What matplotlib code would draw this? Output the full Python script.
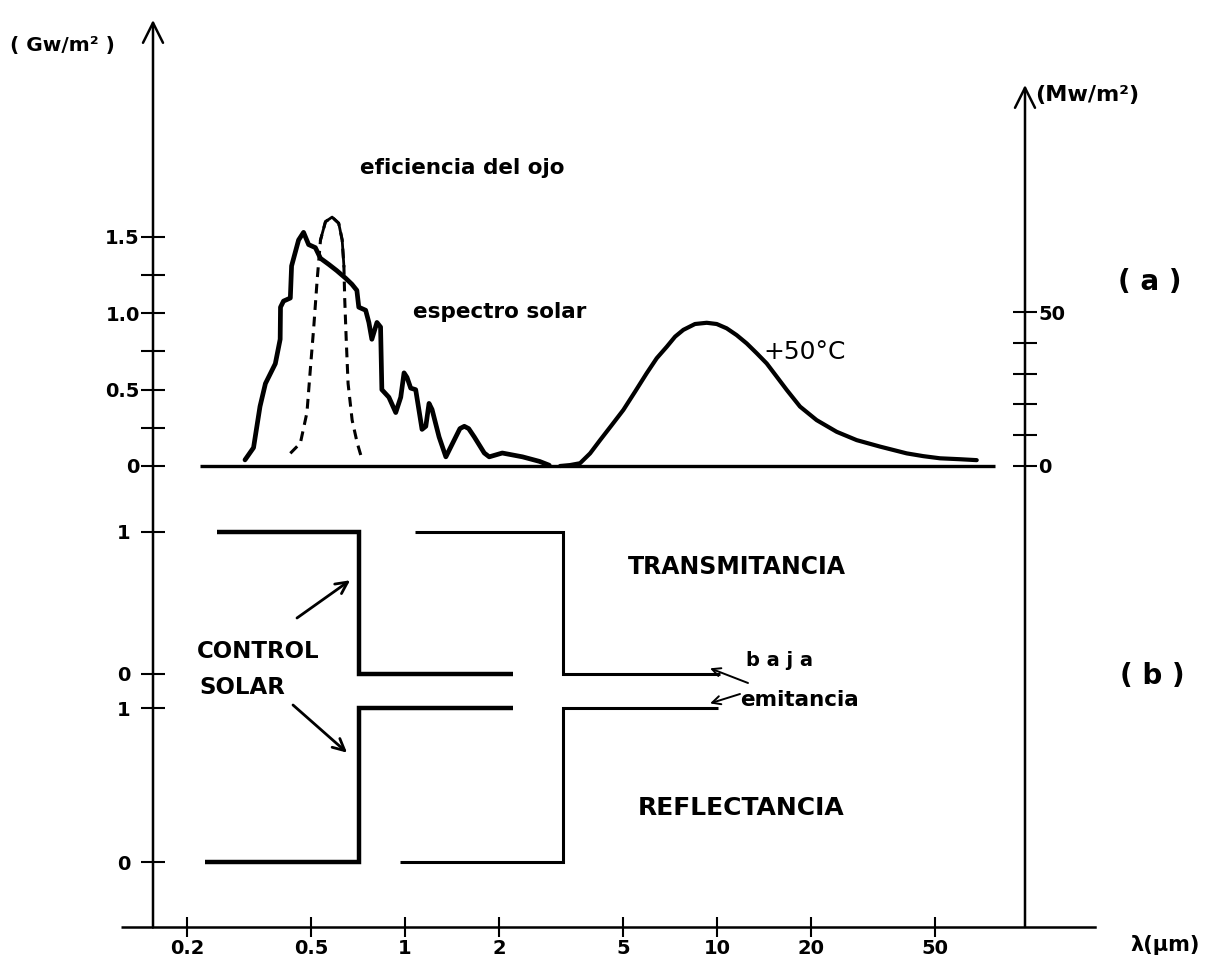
import numpy as np
import matplotlib
matplotlib.use("Agg")
import matplotlib.pyplot as plt

plt.rcParams['font.family'] = ['DejaVu Sans']

# ---------------- data ----------------
# solar spectrum at ground level (GW/m2) against wavelength (um)
solar_lam = [0.307, 0.327, 0.343, 0.357, 0.384, 0.398, 0.399, 0.408, 0.429, 0.433,
             0.456, 0.473, 0.491, 0.516, 0.536, 0.570, 0.604, 0.645, 0.676, 0.701,
             0.711, 0.748, 0.766, 0.783, 0.813, 0.835, 0.843, 0.888, 0.934, 0.969,
             0.993, 1.015, 1.043, 1.082, 1.134, 1.166, 1.194, 1.221, 1.286, 1.352,
             1.438, 1.50, 1.549, 1.60, 1.668, 1.795, 1.862, 2.05, 2.38, 2.70, 2.90]
solar_irr = [0.04, 0.12, 0.39, 0.54, 0.67, 0.83, 1.04, 1.08, 1.10, 1.31,
             1.48, 1.53, 1.45, 1.43, 1.36, 1.32, 1.28, 1.23, 1.19, 1.15,
             1.04, 1.02, 0.94, 0.83, 0.94, 0.91, 0.50, 0.45, 0.35, 0.45,
             0.61, 0.58, 0.51, 0.50, 0.24, 0.26, 0.41, 0.37, 0.19, 0.06,
             0.17, 0.245, 0.26, 0.245, 0.19, 0.085, 0.06, 0.085, 0.06, 0.03, 0.005]

# relative eye sensitivity, drawn on the same scale
eye_lam = [0.429, 0.462, 0.485, 0.498, 0.510, 0.523, 0.536, 0.556, 0.584,
           0.613, 0.629, 0.637, 0.641, 0.648, 0.657, 0.677, 0.703, 0.729]
eye_eff = [0.083, 0.15, 0.35, 0.65, 0.91, 1.22, 1.48, 1.60, 1.63,
           1.59, 1.48, 1.31, 1.09, 0.83, 0.54, 0.30, 0.15, 0.04]

# emission of a body at +50 C (MW/m2)
ir_lam = [3.14, 3.38, 3.64, 3.92, 4.22, 4.60, 5.01, 5.46, 5.95, 6.41,
          6.90, 7.34, 7.80, 8.50, 9.27, 9.98, 10.74, 11.56, 12.45, 13.41,
          14.43, 15.54, 16.73, 18.45, 20.86, 24.19, 28.04, 33.30, 40.55, 45.84,
          51.85, 60.09, 67.99]
ir_irr = [0.0, 0.3, 0.9, 4.1, 8.4, 13.3, 18.2, 24.1, 30.1, 35.0,
          38.7, 42.0, 44.2, 46.1, 46.5, 46.1, 44.7, 42.5, 39.8, 36.6,
          33.3, 29.0, 24.7, 19.3, 14.9, 11.1, 8.4, 6.3, 4.1, 3.2,
          2.5, 2.2, 1.9]

# zero line of panel (a)
baseline_lam = [0.22, 78.0]

# idealised glazing: solar control and low emissivity
control_T_edges = [0.25, 0.71, 2.22]
control_T = [1, 0]
control_R_edges = [0.229, 0.71, 2.22]
control_R = [0, 1]
lowe_T_edges = [1.077, 3.21, 10.2]
lowe_T = [1, 0]
lowe_R_edges = [0.964, 3.21, 10.06]
lowe_R = [0, 1]

x_ticks = [0.2, 0.5, 1, 2, 5, 10, 20, 50]
x_labels = ['0.2', '0.5', '1', '2', '5', '10', '20', '50']
solar_ticks = [0, 0.25, 0.5, 0.75, 1.0, 1.25, 1.5]
solar_labels = ['0', '', '0.5', '', '1.0', '', '1.5']
ir_ticks = [0, 10, 20, 30, 40, 50]
ir_labels = ['0', '', '', '', '', '50']

# ---------------- layout ----------------
W, H = 1208, 967
fig = plt.figure(figsize=(W / 100, H / 100), dpi=100)
fig.patch.set_facecolor('white')

PX_PER_DEC = 312.0
PX_ONE = 405.0


def lam_at(px):
    return 10 ** ((px - PX_ONE) / PX_PER_DEC)


def rect(x0, x1, ytop, ybot):
    return [x0 / W, 1 - ybot / H, (x1 - x0) / W, (ybot - ytop) / H]


TOP, BOT = 20, 927
LEFT, RIGHT = 153, 1095


def ylim_for(py_zero, px_per_unit):
    return (-(BOT - py_zero) / px_per_unit, (py_zero - TOP) / px_per_unit)


LW_AX = 1.8
TICK_LEN = 17

ax = fig.add_axes(rect(LEFT, RIGHT, TOP, BOT))
ax.set_xscale('log')
ax.set_xlim(lam_at(LEFT), lam_at(RIGHT))
ax.set_ylim(0, 1)
ax.patch.set_alpha(0)
for s in ['top', 'right', 'left']:
    ax.spines[s].set_visible(False)
ax.spines['bottom'].set_linewidth(LW_AX)
ax.set_xticks(x_ticks)
ax.set_xticklabels(x_labels)
ax.xaxis.set_minor_locator(matplotlib.ticker.NullLocator())
ax.tick_params(axis='x', direction='inout', length=14, width=1.5, pad=2,
               labelsize=14)
for t in ax.get_xticklabels():
    t.set_fontweight('bold')
ax.set_yticks([])
# x axis runs a little past the left axis
ax.plot([-0.034, 0], [0, 0], transform=ax.transAxes, color='k', lw=LW_AX,
        clip_on=False, solid_capstyle='butt')
# left axis with arrow
ax.annotate('', xy=(0, 1.0), xytext=(0, 0), xycoords='axes fraction',
            arrowprops=dict(arrowstyle='->,head_length=0.9,head_width=0.45',
                            lw=LW_AX, color='k', mutation_scale=16,
                            shrinkA=0, shrinkB=0))


def overlay(ylim, x1=RIGHT):
    a = fig.add_axes(rect(LEFT, x1, TOP, BOT))
    a.set_xscale('log')
    a.set_xlim(lam_at(LEFT), lam_at(x1))
    a.set_ylim(*ylim)
    a.patch.set_alpha(0)
    for s in a.spines.values():
        s.set_visible(False)
    a.set_xticks([])
    a.xaxis.set_minor_locator(matplotlib.ticker.NullLocator())
    return a


# panel (a): solar spectrum
ax_s = overlay(ylim_for(466, 152.7))
ax_s.plot(baseline_lam, [0, 0], color='k', lw=2.4, solid_capstyle='butt')
ax_s.plot(solar_lam, solar_irr, color='k', lw=3.4, solid_joinstyle='round',
          solid_capstyle='round')
ax_s.plot(eye_lam, eye_eff, color='k', lw=2.2, dashes=(3.2, 2.2))
solar_under_eye = np.interp(np.log10(eye_lam), np.log10(solar_lam), solar_irr)
eye_top = np.where(np.array(eye_eff) >= solar_under_eye - 0.02,
                   np.array(eye_eff), np.nan)
ax_s.plot(eye_lam, eye_top, color='k', lw=2.0, solid_joinstyle='round')
ax_s.set_yticks(solar_ticks)
ax_s.set_yticklabels(solar_labels)
ax_s.tick_params(axis='y', direction='inout', length=TICK_LEN, width=1.5,
                 pad=1, labelsize=14)

# panel (a): thermal emission on its own axis
IR_RIGHT = 1025
ax_i = overlay(ylim_for(466, 3.08), x1=IR_RIGHT)
ax_i.plot(ir_lam, ir_irr, color='k', lw=3.0, solid_capstyle='round',
          solid_joinstyle='round')
ax_i.yaxis.tick_right()
ax_i.set_yticks(ir_ticks)
ax_i.set_yticklabels(ir_labels)
ax_i.tick_params(axis='y', direction='inout', length=TICK_LEN, width=1.5,
                 pad=1, labelsize=14)
ax_i.annotate('', xy=(1, (BOT - 85) / (BOT - TOP)), xytext=(1, 0),
              xycoords='axes fraction',
              arrowprops=dict(arrowstyle='->,head_length=0.9,head_width=0.45',
                              lw=LW_AX, color='k', mutation_scale=16,
                              shrinkA=0, shrinkB=0))

# panel (b): transmittance
ax_t = overlay(ylim_for(674, 142))
ax_t.stairs(control_T, control_T_edges, baseline=None, color='k', lw=3.2)
ax_t.stairs(lowe_T, lowe_T_edges, baseline=None, color='k', lw=2.2)
ax_t.set_yticks([0, 1])
ax_t.set_yticklabels(['0', '1'])
ax_t.tick_params(axis='y', direction='inout', length=TICK_LEN, width=1.5,
                 pad=8, labelsize=14)

# panel (b): reflectance
ax_r = overlay(ylim_for(862, 154))
ax_r.stairs(control_R, control_R_edges, baseline=None, color='k', lw=3.2)
ax_r.stairs(lowe_R, lowe_R_edges, baseline=None, color='k', lw=2.2)
ax_r.set_yticks([0, 1])
ax_r.set_yticklabels(['0', '1'])
ax_r.tick_params(axis='y', direction='inout', length=TICK_LEN, width=1.5,
                 pad=8, labelsize=14)

for a in (ax_s, ax_i, ax_t, ax_r):
    for t in a.get_yticklabels():
        t.set_fontweight('bold')


# ---------------- annotations ----------------
def ftext(px, py, s, size=14, weight='bold', ha='left', va='center'):
    fig.text(px / W, 1 - py / H, s, fontsize=size, fontweight=weight,
             ha=ha, va=va)


ftext(10, 45, '( Gw/m² )', size=14.5)
ftext(1035, 95, '(Mw/m²)', size=16)
ftext(360, 168, 'eficiencia del ojo', size=15.5)
ftext(413, 312, 'espectro solar', size=15.5)
ftext(763, 352, '+50°C', size=18, weight='normal')
ftext(1150, 282, '( a )', size=20, ha='center')
ftext(1152, 676, '( b )', size=20, ha='center')
ftext(628, 567, 'TRANSMITANCIA', size=17)
ftext(638, 808, 'REFLECTANCIA', size=18)
ftext(197, 652, 'CONTROL', size=16.5)
ftext(199, 688, 'SOLAR', size=16.5)
ftext(746, 660, 'b a j a', size=14)
ftext(740, 700, 'emitancia', size=15.5)
ftext(1130, 945, 'λ(µm)', size=15)

arrow = dict(arrowstyle='->,head_length=0.6,head_width=0.3', lw=2.0,
             color='k', mutation_scale=14, shrinkA=0, shrinkB=0)
thin_arrow = dict(arrowstyle='->,head_length=0.5,head_width=0.25', lw=1.4,
                  color='k', mutation_scale=12, shrinkA=0, shrinkB=0)

ax_t.annotate('', xy=(0.667, 0.66), xycoords='data',
              xytext=(297, H - 618), textcoords='figure pixels',
              arrowprops=arrow)
ax_r.annotate('', xy=(0.652, 0.71), xycoords='data',
              xytext=(293, H - 705), textcoords='figure pixels',
              arrowprops=arrow)
ax_t.annotate('', xy=(9.5, 0.04), xycoords='data',
              xytext=(748, H - 683), textcoords='figure pixels',
              arrowprops=thin_arrow)
ax_r.annotate('', xy=(9.5, 1.03), xycoords='data',
              xytext=(740, H - 694), textcoords='figure pixels',
              arrowprops=thin_arrow)

fig.savefig('out.png', dpi=100, facecolor='white')
